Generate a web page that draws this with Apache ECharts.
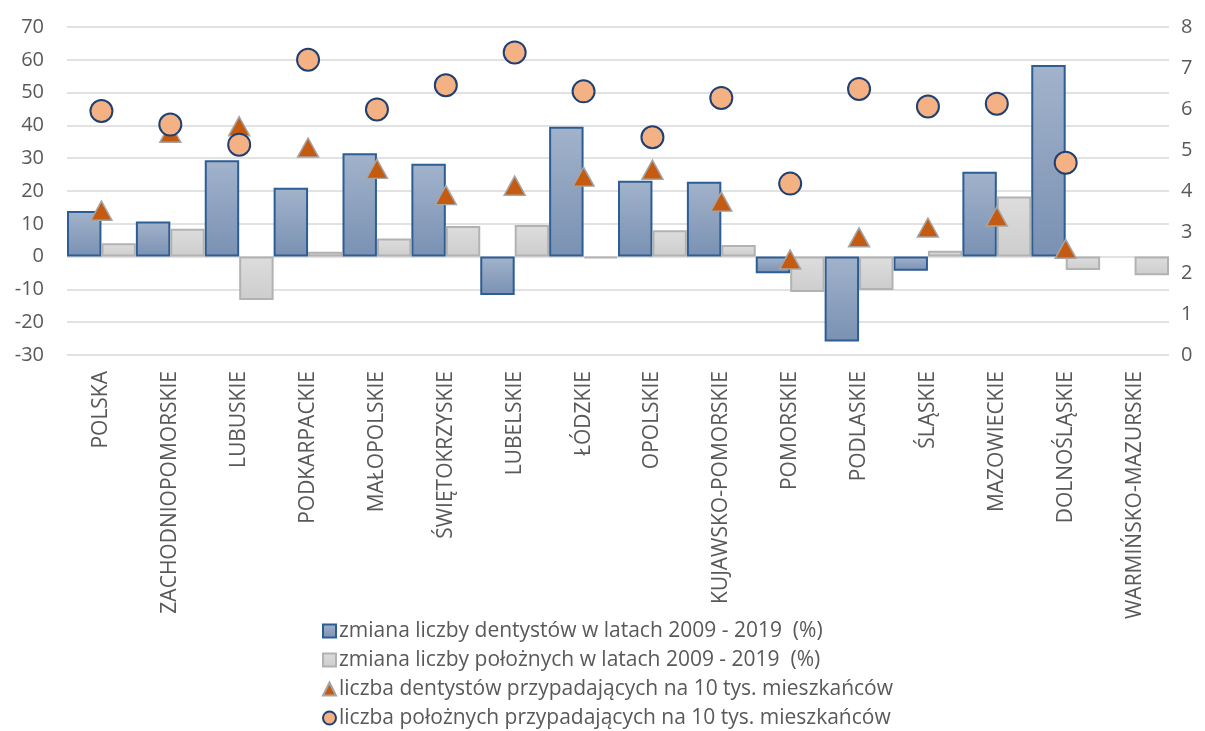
<!DOCTYPE html>
<html>
<head>
<meta charset="utf-8">
<script src="https://cdn.jsdelivr.net/npm/echarts@6/dist/echarts.min.js"></script>
<style>html,body{margin:0;padding:0;background:#fff}#c{width:1205px;height:731px}</style>
</head>
<body>
<div id="c"></div>
<script>
const categories = ['POLSKA','ZACHODNIOPOMORSKIE','LUBUSKIE','PODKARPACKIE','MAŁOPOLSKIE','ŚWIĘTOKRZYSKIE','LUBELSKIE','ŁÓDZKIE','OPOLSKIE','KUJAWSKO-POMORSKIE','POMORSKIE','PODLASKIE','ŚLĄSKIE','MAZOWIECKIE','DOLNOŚLĄSKIE','WARMIŃSKO-MAZURSKIE'];
const dentistChange = [13.9, 10.7, 29.4, 21.0, 31.5, 28.3, -11.7, 39.6, 23.1, 22.8, -5.1, -25.9, -4.3, 25.9, 58.4, null];
const midwifeChange = [4.1, 8.5, -13.2, 1.5, 5.5, 9.3, 9.6, -0.5, 8.0, 3.5, -10.8, -10.2, 1.8, 18.3, -4.1, -5.7];
const dentistPer10k = [3.52, 5.42, 5.58, 5.06, 4.54, 3.90, 4.13, 4.35, 4.52, 3.74, 2.33, 2.87, 3.11, 3.38, 2.59, null];
const midwifePer10k = [5.95, 5.62, 5.13, 7.20, 5.99, 6.58, 7.38, 6.43, 5.31, 6.27, 4.18, 6.49, 6.06, 6.13, 4.69, null];
const leftTicks = {min: -30, max: 70, interval: 10};
const rightTicks = {min: 0, max: 8, interval: 1};
const names = [
  'zmiana liczby dentystów w latach 2009 - 2019  (%)',
  'zmiana liczby położnych w latach 2009 - 2019  (%)',
  'liczba dentystów przypadających na 10 tys. mieszkańców',
  'liczba położnych przypadających na 10 tys. mieszkańców'
];
const font = "'Open Sans', sans-serif";
const grey = '#595959';
const chart = echarts.init(document.getElementById('c'));
chart.setOption({
  animation: false,
  textStyle: {fontFamily: font},
  grid: {left: 67, right: 36, top: 27, bottom: 376},
  legend: {
    orient: 'vertical', left: 322, top: 619, height: 120, itemGap: 5,
    itemWidth: 13, itemHeight: 13, padding: 0,
    textStyle: {color: grey, fontSize: 21, fontFamily: font, lineHeight: 24, padding: [0,0,0,-2]},
    data: [
      {name: names[0], icon: 'rect'},
      {name: names[1], icon: 'rect'},
      {name: names[2], icon: 'triangle'},
      {name: names[3], icon: 'circle'}
    ]
  },
  xAxis: {
    type: 'category', data: categories,
    axisLine: {show: false}, axisTick: {show: false},
    axisLabel: {rotate: 90, color: grey, fontSize: 21, margin: 16, interval: 0, fontFamily: font}
  },
  yAxis: [
    {type: 'value', min: leftTicks.min, max: leftTicks.max, interval: leftTicks.interval,
     axisLine: {show: false}, axisTick: {show: false},
     axisLabel: {color: grey, fontSize: 20, margin: 23, fontFamily: font},
     splitLine: {lineStyle: {color: '#d9d9d9', width: 1.5}}},
    {type: 'value', min: rightTicks.min, max: rightTicks.max, interval: rightTicks.interval,
     axisLine: {show: false}, axisTick: {show: false},
     axisLabel: {color: grey, fontSize: 20, margin: 12, fontFamily: font},
     splitLine: {show: false}}
  ],
  series: [
    {name: names[0], type: 'bar', data: dentistChange, barGap: '0%', barCategoryGap: '0%',
     itemStyle: {color: new echarts.graphic.LinearGradient(0,0,0,1,[{offset:0,color:'#a2b3cb'},{offset:1,color:'#7a91b3'}]),
       borderColor: '#2c5d94', borderWidth: 2}},
    {name: names[1], type: 'bar', data: midwifeChange, barGap: '0%', barCategoryGap: '0%',
     itemStyle: {color: new echarts.graphic.LinearGradient(0,0,0,1,[{offset:0,color:'#dddddd'},{offset:1,color:'#cdcdcd'}]),
       borderColor: '#b2b2b2', borderWidth: 2}},
    {name: names[2], type: 'scatter', yAxisIndex: 1, data: dentistPer10k, symbol: 'triangle', symbolSize: [21, 19], z: 3,
     itemStyle: {color: '#c55a11', borderColor: '#a5a5a5', borderWidth: 1.5, opacity: 1}},
    {name: names[3], type: 'scatter', yAxisIndex: 1, data: midwifePer10k, symbol: 'circle', symbolSize: 22, z: 4,
     itemStyle: {color: '#f4b183', borderColor: '#203f72', borderWidth: 2, opacity: 1}}
  ]
});
</script>
</body>
</html>
